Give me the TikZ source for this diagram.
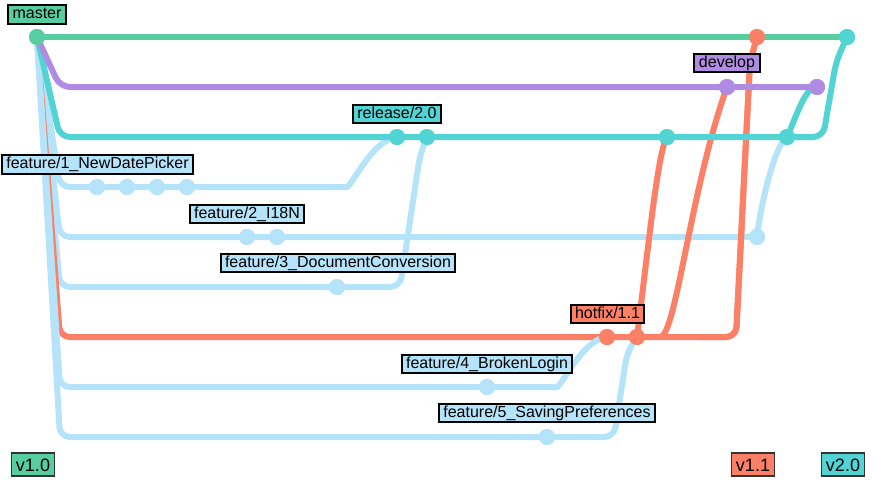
\documentclass[tikz,border=0pt]{standalone}
\usepackage{fontspec}
\setmainfont{Liberation Sans}
\definecolor{cmaster}{RGB}{88,206,160}
\definecolor{cdevelop}{RGB}{176,139,227}
\definecolor{crelease}{RGB}{82,212,212}
\definecolor{chotfix}{RGB}{252,128,102}
\definecolor{cfeature}{RGB}{181,227,250}
\begin{document}
\begin{tikzpicture}[x=1pt,y=-1pt,
  lane/.style={line width=6pt, line cap=round, line join=round, rounded corners=10pt, draw=#1},
  commit/.style={circle, fill=#1, minimum size=16pt, inner sep=0pt},
  branchlabel/.style={draw=black, line width=2pt, fill=#1,
    font=\fontsize{16}{18}\selectfont, text height=11.5pt, text depth=3.4pt,
    inner xsep=4.5pt, inner ysep=2pt},
  taglabel/.style={draw=black!80, line width=1.8pt, fill=#1,
    font=\fontsize{18}{20}\selectfont, text height=13pt, text depth=0pt,
    minimum height=23pt, inner xsep=4.5pt}
]
\useasboundingbox (0,0) rectangle (895,491);

% commits
\node[commit=cmaster]  (m0) at (37,37) {};
\node[commit=chotfix]  (m1) at (757,37) {};
\node[commit=crelease] (m2) at (847,37) {};
\node[commit=cdevelop] (d1) at (727,87) {};
\node[commit=cdevelop] (d2) at (817,87) {};
\node[commit=crelease] (r1) at (397,137) {};
\node[commit=crelease] (r2) at (427,137) {};
\node[commit=crelease] (r3) at (667,137) {};
\node[commit=crelease] (r4) at (787,137) {};
\node[commit=cfeature] (a1) at (97,187) {};
\node[commit=cfeature] (a2) at (127,187) {};
\node[commit=cfeature] (a3) at (157,187) {};
\node[commit=cfeature] (a4) at (187,187) {};
\node[commit=cfeature] (b1) at (247,237) {};
\node[commit=cfeature] (b2) at (277,237) {};
\node[commit=cfeature] (b3) at (757,237) {};
\node[commit=cfeature] (c1) at (337,287) {};
\node[commit=chotfix]  (h1) at (607,337) {};
\node[commit=chotfix]  (h2) at (637,337) {};
\node[commit=cfeature] (e1) at (487,387) {};
\node[commit=cfeature] (g1) at (547,437) {};

% feature branches 1-3
\path[lane=cfeature] (m0.center) -- (60,187) -- (337,187)
  .. controls (351,187) and (373,139) .. (r1.center);
\path[lane=cfeature] (m0.center) -- (60,237) -- (b3.center)
  .. controls (762,200) and (775,145) .. (r4.center);
\path[lane=cfeature] (m0.center) -- (60,287) -- (400,287) -- (420,155) -- (r2.center);
% hotfix lane
\path[lane=chotfix] (m0.center) -- (60,337) -- (736,337) -- (750,62) -- (m1.center);
% feature branches 4-5
\path[lane=cfeature] (m0.center) -- (60,387) -- (547,387)
  .. controls (561,387) and (583,339) .. (h1.center);
\path[lane=cfeature] (m0.center) -- (60,437) -- (614,437) -- (627,353) -- (h2.center);
% hotfix merges
\path[lane=chotfix] (700,337) -- (736,337) -- (750,62) -- (m1.center);
\path[lane=chotfix] (h2.center) .. controls (648,250) and (658,150) .. (r3.center);
\path[lane=chotfix] (660,337) .. controls (676,337) and (690,190) .. (d1.center);
% release
\path[lane=crelease] (m0.center) -- (60,137) -- (823,137) -- (836,62) -- (m2.center);
\path[lane=crelease] (r4.center) .. controls (797,115) and (805,87) .. (d2.center);
% develop
\path[lane=cdevelop] (m0.center) -- (60,87) -- (d2.center);
% master
\path[lane=cmaster] (m0.center) -- (m2.center);

% commits drawn again on top of the lanes
\foreach \n/\c in {m0/cmaster,m1/chotfix,m2/crelease,d1/cdevelop,d2/cdevelop,
  r1/crelease,r2/crelease,r3/crelease,r4/crelease,a1/cfeature,a2/cfeature,
  a3/cfeature,a4/cfeature,b1/cfeature,b2/cfeature,b3/cfeature,c1/cfeature,
  h1/chotfix,h2/chotfix,e1/cfeature,g1/cfeature}
  \fill[\c] (\n.center) circle (8pt);

% branch labels
\node[branchlabel=cmaster]  (lmaster)  at (37,14.5) {master};
\node[branchlabel=cdevelop] (ldevelop) at (727,63) {develop};
\node[branchlabel=crelease] (lrelease) at (397,114) {release/2.0};
\node[branchlabel=cfeature] (lf1) at (97.5,164.5) {feature/1\_NewDatePicker};
\node[branchlabel=cfeature] (lf2) at (247,214) {feature/2\_I18N};
\node[branchlabel=cfeature] (lf3) at (338,263) {feature/3\_DocumentConversion};
\node[branchlabel=chotfix]  (lhotfix) at (607.5,314) {hotfix/1.1};
\node[branchlabel=cfeature] (lf4) at (487,364) {feature/4\_BrokenLogin};
\node[branchlabel=cfeature] (lf5) at (547,413) {feature/5\_SavingPreferences};

% tags
\node[taglabel=cmaster]  (t10) at (33,464.5) {v1.0};
\node[taglabel=chotfix]  (t11) at (753,464.5) {v1.1};
\node[taglabel=crelease] (t20) at (843,464.5) {v2.0};
\end{tikzpicture}
\end{document}
